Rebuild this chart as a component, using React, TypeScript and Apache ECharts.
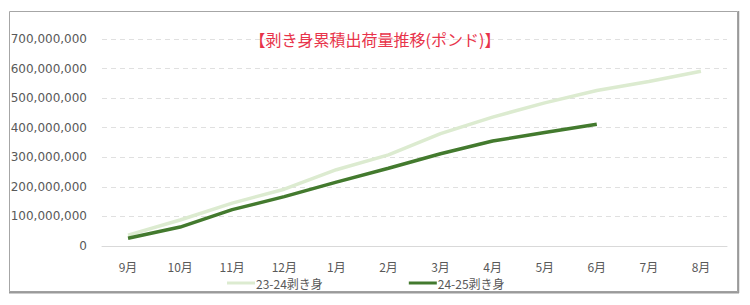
import React, { useEffect, useRef } from "react";
import * as echarts from "echarts";

const months = ["9月", "10月", "11月", "12月", "1月", "2月", "3月", "4月", "5月", "6月", "7月", "8月"];
const series2324 = [37e6, 88e6, 145e6, 192e6, 258e6, 308e6, 380e6, 436e6, 484e6, 526e6, 556e6, 591e6];
const series2425 = [26e6, 64e6, 123e6, 167e6, 216e6, 263e6, 312e6, 355e6, 384e6, 412e6];
const seriesNames = ["23-24剥き身", "24-25剥き身"];
const titleText = "【剥き身累積出荷量推移(ポンド)】";

const FONT = "'Noto Sans CJK JP', 'Noto Sans', sans-serif";

export default function App() {
  const ref = useRef<HTMLDivElement>(null);
  useEffect(() => {
    if (!ref.current) return;
    const chart = echarts.init(ref.current, undefined, { renderer: "svg" });
    chart.setOption({
      animation: false,
      backgroundColor: "#ffffff",
      textStyle: { fontFamily: FONT },
      graphic: [
        {
          type: "rect",
          shape: { x: 9.5, y: 11.5, width: 728, height: 280 },
          style: { fill: "none", stroke: "#a6a6a6", lineWidth: 1 },
          silent: true,
        },
        {
          type: "line",
          shape: { x1: 9, y1: 292.5, x2: 739, y2: 292.5 },
          style: { stroke: "#9a9a9a", lineWidth: 2 },
          silent: true,
        },
        {
          type: "line",
          shape: { x1: 738.5, y1: 11, x2: 738.5, y2: 293 },
          style: { stroke: "#9a9a9a", lineWidth: 1.5 },
          silent: true,
        },
      ],
      title: {
        text: titleText,
        left: "center",
        top: 26,
        textStyle: { color: "#e8334a", fontSize: 16, fontWeight: "normal", fontFamily: FONT },
      },
      grid: { left: 102, right: 23, top: 39, bottom: 59, containLabel: false },
      legend: {
        left: 222,
        top: 272,
        itemWidth: 28,
        itemHeight: 3,
        itemGap: 86,
        icon: "rect",
        textStyle: { color: "#595959", fontSize: 12, fontFamily: FONT, padding: [0, 0, 0, -4] },
        data: seriesNames,
      },
      xAxis: {
        type: "category",
        data: months,
        boundaryGap: true,
        axisLine: { lineStyle: { color: "#d9d9d9" } },
        axisTick: { show: false },
        axisLabel: { color: "#595959", fontSize: 12, margin: 14, fontFamily: FONT },
      },
      yAxis: {
        type: "value",
        min: 0,
        max: 700000000,
        interval: 100000000,
        axisLine: { show: false },
        axisTick: { show: false },
        splitLine: { lineStyle: { color: "#e0e0e0", type: [5, 4] } },
        axisLabel: {
          color: "#595959",
          fontSize: 12,
          margin: 15,
          fontFamily: "'DejaVu Sans', sans-serif",
          formatter: (v: number) => v.toLocaleString("en-US"),
        },
      },
      series: [
        {
          name: seriesNames[0],
          type: "line",
          data: series2324,
          symbol: "none",
          lineStyle: { color: "#dcebd0", width: 3.5 },
          itemStyle: { color: "#dcebd0" },
        },
        {
          name: seriesNames[1],
          type: "line",
          data: series2425,
          symbol: "none",
          lineStyle: { color: "#437a2e", width: 3.5 },
          itemStyle: { color: "#437a2e" },
        },
      ],
    });
    return () => chart.dispose();
  }, []);
  return (
    <div style={{ position: "absolute", left: 0, top: 0, width: 750, height: 305, background: "#fff" }}>
      <div ref={ref} style={{ width: 750, height: 305 }} />
    </div>
  );
}
